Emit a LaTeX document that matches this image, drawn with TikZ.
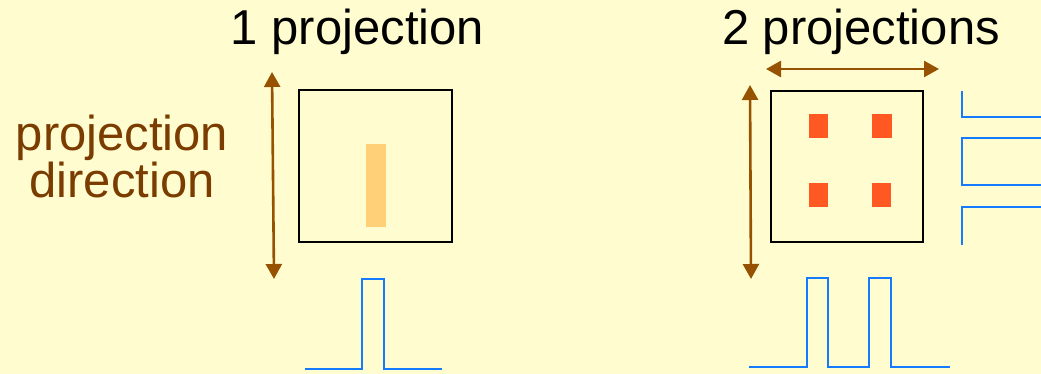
\documentclass[tikz,border=0pt]{standalone}
\usepackage{fontspec}
\setmainfont{Liberation Sans}
\usetikzlibrary{arrows.meta}
\definecolor{bg}{RGB}{255,253,208}
\definecolor{arrowbrown}{RGB}{150,82,0}
\definecolor{textbrown}{RGB}{122,60,0}
\definecolor{barorange}{RGB}{255,208,120}
\definecolor{spotred}{RGB}{255,88,34}
\definecolor{profblue}{RGB}{20,122,255}
\tikzset{
  title/.style={anchor=base, font=\fontsize{49}{52}\selectfont, text=black, inner sep=0pt},
  dirlabel/.style={anchor=base, font=\fontsize{49}{42}\selectfont, text=textbrown, inner sep=0pt, align=center},
  frame/.style={draw=black, line width=2.6pt},
  dirarrow/.style={draw=arrowbrown, line width=2.6pt, {Triangle[length=15pt,width=16pt]}-{Triangle[length=15pt,width=16pt]}},
  profile/.style={draw=profblue, line width=2.6pt, line join=miter},
  spot/.style={fill=spotred},
}
\begin{document}
\begin{tikzpicture}[x=1pt,y=-1pt]
\useasboundingbox (0,0) rectangle (1041,374);
\fill[bg] (0,0) rectangle (1041,374);

% titles
\node[title] (t1) at (357.5,45) {1 projection};
\node[title] (t2) at (861,45) {2 projections};
\node[dirlabel] (d1) at (122,197) {projection\\direction};

% left panel
\draw[frame] (299,90) rectangle (452,242);
\fill[barorange] (366,144) rectangle (386,227);
\coordinate (la1) at (272,72);
\coordinate (la2) at (274,279);
\draw[dirarrow] (la1) -- (la2);
\draw[profile] (305,369) -- (362,369) -- (362,279) -- (384,279) -- (384,369) -- (442,369);

% right panel
\draw[frame] (771,91) rectangle (923,242);
\fill[spot] (809,114) rectangle (828,138);
\fill[spot] (872,114) rectangle (892,138);
\fill[spot] (809,183) rectangle (828,207);
\fill[spot] (872,183) rectangle (891,207);
\coordinate (ha1) at (766,69);
\coordinate (ha2) at (939,69);
\draw[dirarrow] (ha1) -- (ha2);
\coordinate (va1) at (750,85);
\coordinate (va2) at (751,279);
\draw[dirarrow] (va1) -- (va2);
\draw[profile] (749,367) -- (807,367) -- (807,278) -- (828,278) -- (828,367) -- (869,367) -- (869,278) -- (891,278) -- (891,367) -- (950,367);
\draw[profile] (962,91) -- (962,117) -- (1041,117);
\draw[profile] (1041,138) -- (962,138) -- (962,185) -- (1041,185);
\draw[profile] (1041,207) -- (962,207) -- (962,245);
\end{tikzpicture}
\end{document}
